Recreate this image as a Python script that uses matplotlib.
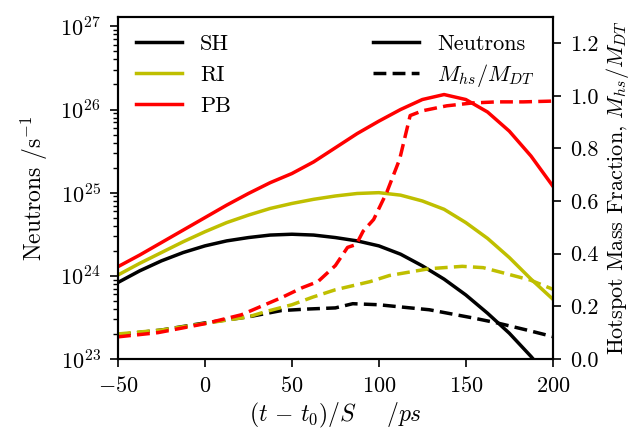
import matplotlib
matplotlib.use("Agg")
import matplotlib.pyplot as plt
import numpy as np
from matplotlib.lines import Line2D

plt.rcParams["font.family"] = "serif"
plt.rcParams["font.serif"] = ["cmr10", "DejaVu Serif"]
plt.rcParams["mathtext.fontset"] = "cm"
plt.rcParams["axes.formatter.use_mathtext"] = True
plt.rcParams["axes.unicode_minus"] = True
plt.rcParams["font.size"] = 16
plt.rcParams["axes.linewidth"] = 1.5

# neutron rate, log10(N / s^-1), sampled on a common time grid
t_sol = [-50, -37.5, -25, -12.5, 0, 12.5, 25, 37.5, 50, 62.5, 75, 87.5,
         100, 112.5, 125, 137.5, 150, 162.5, 175, 187.5, 200]
sh_log = [23.92, 24.06, 24.18, 24.28, 24.36, 24.42, 24.46, 24.49, 24.50, 24.49,
          24.46, 24.42, 24.36, 24.26, 24.12, 23.96, 23.77, 23.55, 23.31, 23.03, 22.72]
ri_log = [24.01, 24.15, 24.28, 24.41, 24.53, 24.64, 24.73, 24.81, 24.87, 24.92,
          24.96, 24.99, 25.00, 24.97, 24.90, 24.80, 24.64, 24.45, 24.22, 23.96, 23.72]
pb_log = [24.11, 24.25, 24.40, 24.55, 24.70, 24.85, 24.99, 25.12, 25.23, 25.37,
          25.54, 25.71, 25.86, 26.00, 26.12, 26.18, 26.12, 25.97, 25.74, 25.44, 25.08]

# hotspot mass fraction M_hs / M_DT
t_sh = [-50, -25, 0, 25, 44, 60, 75, 85, 100, 112, 129, 154, 168, 185, 200]
sh_frac = [0.092, 0.11, 0.137, 0.16, 0.184, 0.19, 0.194, 0.21, 0.206, 0.198,
           0.187, 0.156, 0.137, 0.11, 0.085]
t_ri = [-50, -25, 0, 25, 35, 50, 62, 75, 95, 106, 120, 129, 148, 160, 171, 187, 200]
ri_frac = [0.095, 0.11, 0.135, 0.16, 0.18, 0.206, 0.235, 0.263, 0.294, 0.317,
           0.333, 0.343, 0.352, 0.347, 0.328, 0.30, 0.265]
t_pb = [-50, -27, 0, 21, 44, 56, 65, 75, 82, 87, 91, 97, 104.6, 112, 118, 125,
        139, 154, 168, 183, 200]
pb_frac = [0.084, 0.10, 0.134, 0.168, 0.233, 0.271, 0.294, 0.355, 0.424, 0.435,
           0.486, 0.53, 0.634, 0.76, 0.925, 0.943, 0.962, 0.973, 0.977, 0.977, 0.98]

names = ["SH", "RI", "PB"]
colors = ["k", "y", "r"]

fig = plt.figure(figsize=(6.31, 4.33), dpi=100)
ax = fig.add_axes([0.187, 0.171, 0.689, 0.790])
ax2 = ax.twinx()

lw = 2.5
for name, c, vals in zip(names, colors, [sh_log, ri_log, pb_log]):
    ax.plot(t_sol, 10 ** np.array(vals), color=c, lw=lw, label=name)
for c, tt, ff in zip(colors, [t_sh, t_ri, t_pb], [sh_frac, ri_frac, pb_frac]):
    ax2.plot(tt, ff, color=c, lw=lw, ls="--", dashes=(3.7, 1.8))

ax.set_yscale("log")
ax.set_xlim(-50, 200)
ax.set_ylim(1e23, 1.3e27)
ax2.set_ylim(0, 1.3)
ax.set_xticks([-50, 0, 50, 100, 150, 200])
ax2.set_yticks([0.0, 0.2, 0.4, 0.6, 0.8, 1.0, 1.2])
ax2.set_yticklabels(["0.0", "0.2", "0.4", "0.6", "0.8", "1.0", "1.2"])

for a in (ax, ax2):
    a.tick_params(which="major", length=6, width=1.2, pad=6.5)
    a.tick_params(which="minor", length=3.5, width=1.0)

ax.set_xlabel(r"$(t \,-\, t_0)/S \quad\;\; /ps$", fontsize=17, labelpad=3)
ax.set_ylabel(r"Neutrons $/\mathrm{s}^{-1}$", fontsize=17, labelpad=7)
ax2.set_ylabel(r"Hotspot Mass Fraction, $M_{hs}/M_{DT}$", labelpad=4)

ax.legend(loc="upper left", frameon=False, handlelength=2.1,
          labelspacing=0.5, borderaxespad=0.4)
style_handles = [Line2D([], [], color="k", lw=lw),
                 Line2D([], [], color="k", lw=lw, ls="--", dashes=(3.7, 1.8))]
ax2.legend(style_handles, ["Neutrons", r"$M_{hs}/M_{DT}$"], loc="upper right",
           frameon=False, handlelength=2.1, labelspacing=0.35, borderaxespad=0.4)

fig.savefig("out.png", dpi=100)
